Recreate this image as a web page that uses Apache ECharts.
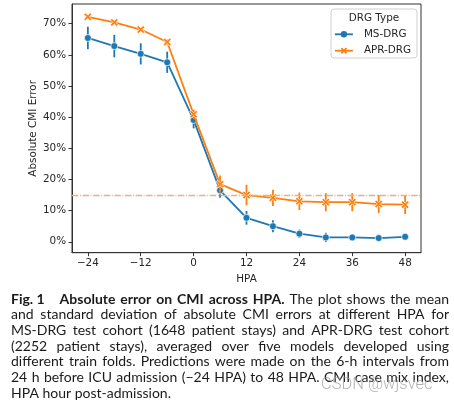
<!DOCTYPE html>
<html>
<head>
<meta charset="utf-8">
<script src="https://cdn.jsdelivr.net/npm/echarts@6/dist/echarts.min.js"></script>
<style>
html,body{margin:0;padding:0;background:#fff;}
#chart{width:454px;height:408px;}
</style>
</head>
<body>
<div id="chart"></div>
<script>
// ---- data ----
const hpa = [-24, -18, -12, -6, 0, 6, 12, 18, 24, 30, 36, 42, 48];
const msMean = [65.4, 62.8, 60.3, 57.6, 39.1, 16.5, 7.7, 5.0, 2.6, 1.4, 1.4, 1.2, 1.6];
const msStd = [3.6, 3.6, 3.4, 3.4, 2.7, 2.4, 2.2, 1.9, 1.3, 1.5, 0.9, 0.5, 0.6];
const aprMean = [72.2, 70.4, 68.1, 64.1, 40.9, 18.5, 15.0, 14.1, 13.0, 12.7, 12.7, 12.1, 11.9];
const aprStd = [0.6, 0.5, 0.5, 0.8, 1.5, 2.8, 3.3, 2.6, 2.8, 2.9, 2.9, 2.9, 3.0];
const threshold = 15;
const xTicks = [-24, -12, 0, 12, 24, 36, 48];
const yTicks = [0, 10, 20, 30, 40, 50, 60, 70];
const seriesNames = ['MS-DRG', 'APR-DRG'];
const legendTitle = 'DRG Type';
const xName = 'HPA';
const yName = 'Absolute CMI Error';
const captionLines = [
  [{t:'Fig. 1', b:true, extra:10}, {t:'Absolute',b:true},{t:'error',b:true},{t:'on',b:true},{t:'CMI',b:true},{t:'across',b:true},{t:'HPA.',b:true},
   {t:'The'},{t:'plot'},{t:'shows'},{t:'the'},{t:'mean'}],
  'and standard deviation of absolute CMI errors at different HPA for',
  'MS-DRG test cohort (1648 patient stays) and APR-DRG test cohort',
  '(2252 patient stays), averaged over five models developed using',
  'different train folds. Predictions were made on the 6-h intervals from',
  '24 h before ICU admission (\u221224 HPA) to 48 HPA. CMI case mix index,',
  'HPA hour post-admission.'
];
const watermark = 'CSDN @wjsvec';

// ---- build ----
const BLUE = '#1f77b4', ORANGE = '#ff7f0e';
const TXT = '#262626';
const FS = 10.4;
const FF = '"DejaVu Sans", Verdana, sans-serif';
const xPath = 'path://M0,2 L2,0 L5,3 L8,0 L10,2 L7,5 L10,8 L8,10 L5,7 L2,10 L0,8 L3,5 Z';
const fmtNum = v => (v < 0 ? '\u2212' + Math.abs(v) : '' + v);

function errSeries(name, mean, std, color, z) {
  return {
    name: name, type: 'custom', z: z, silent: true,
    data: hpa.map((h, i) => [h, mean[i] - std[i], mean[i] + std[i]]),
    encode: {x: 0, y: [1, 2]},
    renderItem: function (params, api) {
      const p1 = api.coord([api.value(0), api.value(1)]);
      const p2 = api.coord([api.value(0), api.value(2)]);
      return {type: 'line', shape: {x1: p1[0], y1: p1[1], x2: p2[0], y2: p2[1]},
        style: {stroke: color, lineWidth: 1.8}};
    }
  };
}

// caption layout (justified)
const cv = document.createElement('canvas');
const ctx = cv.getContext('2d');
const CAP_FONT = 'Lato, "Noto Sans", sans-serif';
function fontStr(b, s) { return (b ? 'bold ' : 'normal ') + s + 'px ' + CAP_FONT; }
function mw(t, b, s) { ctx.font = fontStr(b, s); return ctx.measureText(t).width; }
const capLines = captionLines.map(l => typeof l === 'string' ? l.split(' ').map(w => ({t: w})) : l);
const CAP_L = 11, CAP_R = 449, CAP_W = CAP_R - CAP_L;
let base = 13;
let maxNat = 0;
capLines.forEach(ws => {
  let w = 0;
  ws.forEach((o, i) => { w += mw(o.t, o.b, base) + (o.extra || 0); if (i < ws.length - 1) w += mw(' ', o.b, base); });
  maxNat = Math.max(maxNat, w);
});
const capSize = Math.min(14, base * CAP_W / maxNat);
const graphics = [];
capLines.forEach((ws, li) => {
  const y = 299 + li * 15.7;
  const widths = ws.map(o => mw(o.t, o.b, capSize));
  const extra = ws.reduce((a, o) => a + (o.extra || 0), 0);
  const sum = widths.reduce((a, b) => a + b, 0) + extra;
  const last = li === capLines.length - 1;
  const gap = last ? mw(' ', false, capSize) : (CAP_W - sum) / (ws.length - 1);
  let x = CAP_L;
  ws.forEach((o, i) => {
    graphics.push({type: 'text', x: x, y: y, silent: true,
      style: {text: o.t, font: fontStr(o.b, capSize), fill: '#1a1a1a', align: 'left', verticalAlign: 'middle'}});
    x += widths[i] + gap + (o.extra || 0);
  });
});
// watermark
graphics.push({type: 'text', x: 321, y: 385, silent: true, z: 10,
  style: {text: watermark, font: '300 16.5px Roboto', fill: 'rgba(160,160,160,0.8)', align: 'left', verticalAlign: 'middle'}});
// legend frame + title
graphics.push({type: 'rect', z: 3, silent: true, shape: {x: 331, y: 9, width: 86, height: 49, r: 3},
  style: {fill: 'rgba(255,255,255,0.8)', stroke: '#d0d0d0', lineWidth: 1}});
graphics.push({type: 'text', z: 4, silent: true, x: 374, y: 18.5,
  style: {text: legendTitle, font: 'normal ' + FS + 'px ' + FF, fill: TXT, align: 'center', verticalAlign: 'middle'}});

const chart = echarts.init(document.getElementById('chart'), null, {renderer: 'canvas'});
chart.setOption({
  animation: false,
  backgroundColor: '#fff',
  textStyle: {fontFamily: FF},
  grid: {left: 72, right: 33, top: 4, bottom: 155.3, show: true, borderColor: '#333', borderWidth: 1, containLabel: false},
  xAxis: {
    type: 'value', min: -27.6, max: 51.6,
    name: xName, nameLocation: 'middle', nameGap: 22, nameMoveOverlap: false,
    nameTextStyle: {fontSize: FS, color: TXT, fontFamily: FF},
    axisLine: {onZero: false, lineStyle: {color: '#333', width: 1}},
    axisTick: {customValues: xTicks, length: 3.5, lineStyle: {color: '#333'}},
    axisLabel: {customValues: xTicks, formatter: fmtNum, fontSize: FS, color: TXT, margin: 6, fontFamily: FF},
    splitLine: {show: false}
  },
  yAxis: {
    type: 'value', min: -3.5, max: 76.3,
    name: yName, nameLocation: 'middle', nameGap: 34, nameMoveOverlap: false,
    nameTextStyle: {fontSize: FS, color: TXT, fontFamily: FF},
    axisLine: {show: true, onZero: false, lineStyle: {color: '#333', width: 1}},
    axisTick: {show: true, customValues: yTicks, length: 3.5, lineStyle: {color: '#333'}},
    axisLabel: {customValues: yTicks, formatter: v => v + '%', fontSize: FS, color: TXT, margin: 6, fontFamily: FF},
    splitLine: {show: false}
  },
  legend: {
    data: seriesNames, orient: 'vertical', left: 334, top: 29.3, z: 5,
    itemWidth: 18, itemHeight: 8, itemGap: 6.4, padding: 0,
    itemStyle: {borderWidth: 0},
    lineStyle: {width: 1.8, type: 'solid'},
    textStyle: {fontSize: FS, color: TXT, fontFamily: FF, padding: [0, 0, 0, 6]},
    selectedMode: false
  },
  graphic: graphics,
  series: [
    {
      name: 'threshold', type: 'line', data: [], z: 0, silent: true,
      markLine: {
        silent: true, symbol: 'none', label: {show: false},
        lineStyle: {color: '#e6b184', width: 1.3, type: [6.4, 1.6, 1, 1.6]},
        data: [{yAxis: threshold}]
      }
    },
    errSeries('ms-err', msMean, msStd, BLUE, 1),
    {
      name: seriesNames[0], type: 'line', z: 2,
      data: hpa.map((h, i) => [h, msMean[i]]),
      symbol: 'circle', symbolSize: 7, showAllSymbol: true,
      itemStyle: {color: BLUE, borderColor: '#fff', borderWidth: 0.7},
      lineStyle: {color: BLUE, width: 1.8}
    },
    errSeries('apr-err', aprMean, aprStd, ORANGE, 3),
    {
      name: seriesNames[1], type: 'line', z: 4,
      data: hpa.map((h, i) => [h, aprMean[i]]),
      symbol: xPath, symbolSize: 8, showAllSymbol: true,
      itemStyle: {color: ORANGE, borderColor: '#fff', borderWidth: 0.7},
      lineStyle: {color: ORANGE, width: 1.8}
    }
  ]
});
</script>
</body>
</html>
